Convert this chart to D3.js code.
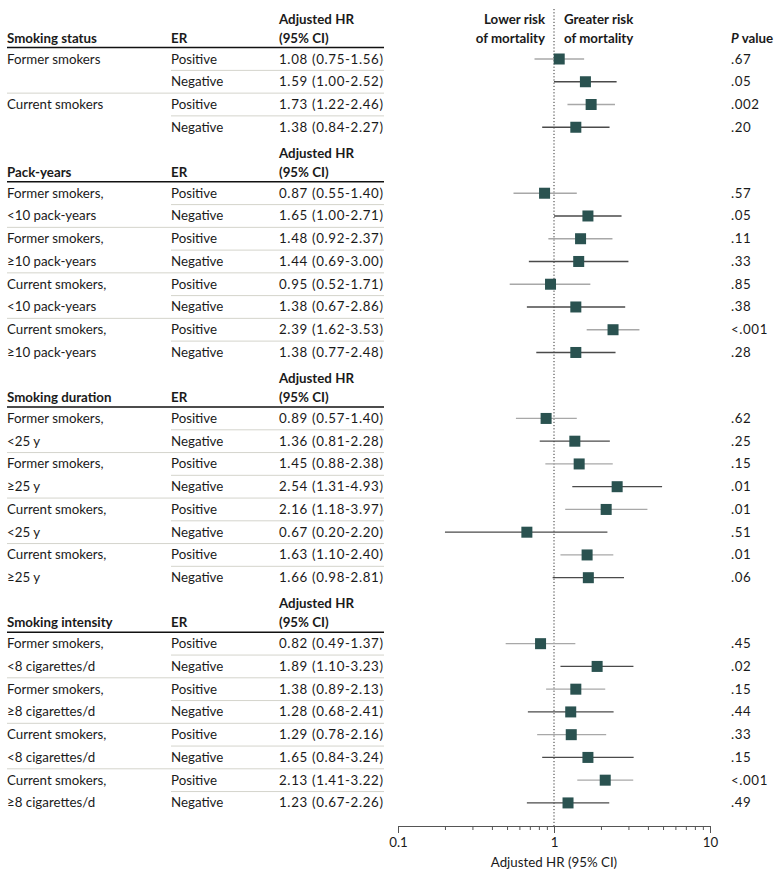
<!DOCTYPE html>
<html><head><meta charset="utf-8">
<script src="https://cdn.jsdelivr.net/npm/d3@7"></script>
<style>
body{margin:0;background:#fff;}
svg text{font-family:Lato,"Noto Sans",sans-serif;fill:#1a1a1a;}
</style></head>
<body><svg id="chart" width="780" height="881"></svg>
<script>
const sectionTitles = ["Smoking status","Pack-years","Smoking duration","Smoking intensity"];
const groupLabels = [
  ["Former smokers"],["Current smokers"],
  ["Former smokers,","<10 pack-years"],["Former smokers,","≥10 pack-years"],["Current smokers,","<10 pack-years"],["Current smokers,","≥10 pack-years"],
  ["Former smokers,","<25 y"],["Former smokers,","≥25 y"],["Current smokers,","<25 y"],["Current smokers,","≥25 y"],
  ["Former smokers,","<8 cigarettes/d"],["Former smokers,","≥8 cigarettes/d"],["Current smokers,","<8 cigarettes/d"],["Current smokers,","≥8 cigarettes/d"]
];
const groupSection = [0,0,1,1,1,1,2,2,2,2,3,3,3,3];
const erStatus = ["Positive","Negative"];
const hr     = [1.08,1.59,1.73,1.38, 0.87,1.65,1.48,1.44,0.95,1.38,2.39,1.38, 0.89,1.36,1.45,2.54,2.16,0.67,1.63,1.66, 0.82,1.89,1.38,1.28,1.29,1.65,2.13,1.23];
const ciLow  = [0.75,1.00,1.22,0.84, 0.55,1.00,0.92,0.69,0.52,0.67,1.62,0.77, 0.57,0.81,0.88,1.31,1.18,0.20,1.10,0.98, 0.49,1.10,0.89,0.68,0.78,0.84,1.41,0.67];
const ciHigh = [1.56,2.52,2.46,2.27, 1.40,2.71,2.37,3.00,1.71,2.86,3.53,2.48, 1.40,2.28,2.38,4.93,3.97,2.20,2.40,2.81, 1.37,3.23,2.13,2.41,2.16,3.24,3.22,2.26];
const pValues = [".67",".05",".002",".20", ".57",".05",".11",".33",".85",".38","<.001",".28", ".62",".25",".15",".01",".01",".51",".01",".06", ".45",".02",".15",".44",".33",".15","<.001",".49"];
const axisTicks = [0.1,0.2,0.3,0.4,0.5,0.6,0.7,0.8,0.9,1,2,3,4,5,6,7,8,9,10];
const axisLabels = ["0.1","1","10"];

const svg = d3.select("#chart");
const fs = 13.3;
const colLabel = 7, colER = 171, colHR = 279, colP = 731, tableRight = 384;
const x = d3.scaleLog().domain([0.1,10]).range([398,710]);
const y = d3.scaleLinear().domain([0,1]).range([59,59+22.75]);
const headerGap = 2.9;

const rows = [];
const sectionStart = [];
let unit = 0;
sectionTitles.forEach((s,si)=>{
  if(si>0) unit += headerGap;
  sectionStart.push(unit);
  groupLabels.forEach((g,gi)=>{
    if(groupSection[gi]!==si) return;
    erStatus.forEach((er,ei)=>{
      const idx = rows.length;
      rows.push({idx, si, gi, ei, er, unit, hr:hr[idx], lo:ciLow[idx], hi:ciHigh[idx], p:pValues[idx]});
      unit += 1;
    });
  });
  unit -= 1;
});

sectionTitles.forEach((s,si)=>{
  const y0 = y(sectionStart[si]);
  const g = svg.append("g");
  g.append("text").attr("x",colLabel).attr("y",y0-21+4.5).attr("font-size",fs).attr("font-weight","bold").text(s);
  g.append("text").attr("x",colER).attr("y",y0-21+4.5).attr("font-size",fs).attr("font-weight","bold").text("ER");
  g.append("text").attr("x",colHR).attr("y",y0-40+4.5).attr("font-size",fs).attr("font-weight","bold").text("Adjusted HR");
  g.append("text").attr("x",colHR).attr("y",y0-21+4.5).attr("font-size",fs).attr("font-weight","bold").text("(95% CI)");
  g.append("line").attr("x1",colLabel).attr("x2",tableRight).attr("y1",y0-11.5).attr("y2",y0-11.5)
    .attr("stroke","#111").attr("stroke-width",1.5);
  if(si===0){
    const pt = g.append("text").attr("x",colP).attr("y",y0-21+4.5).attr("font-size",fs).attr("font-weight","bold");
    pt.append("tspan").attr("font-style","italic").text("P");
    pt.append("tspan").text(" value");
  }
});

rows.forEach((r,i)=>{
  const next = rows[i+1];
  if(!next || next.si!==r.si) return;
  const ys = (y(r.unit)+y(next.unit))/2;
  const x1 = r.ei===0 ? colER : colLabel;
  svg.append("line").attr("x1",x1).attr("x2",tableRight).attr("y1",ys).attr("y2",ys)
    .attr("stroke","#d4d4cc").attr("stroke-width",1);
});

rows.forEach(r=>{
  const yy = y(r.unit)+4.5;
  const lbl = groupLabels[r.gi][r.ei];
  if(lbl) svg.append("text").attr("x",colLabel).attr("y",yy).attr("font-size",fs).text(lbl);
  svg.append("text").attr("x",colER).attr("y",yy).attr("font-size",fs).text(r.er);
  svg.append("text").attr("x",colHR).attr("y",yy).attr("font-size",fs).attr("letter-spacing",0.65)
    .text(`${r.hr.toFixed(2)} (${r.lo.toFixed(2)}-${r.hi.toFixed(2)})`);
  svg.append("text").attr("x",colP).attr("y",yy).attr("font-size",fs).attr("letter-spacing",0.6).text(r.p);
});

svg.append("text").attr("x",545).attr("y",19+4.5).attr("text-anchor","end").attr("font-size",fs).attr("font-weight","bold").text("Lower risk");
svg.append("text").attr("x",545).attr("y",38+4.5).attr("text-anchor","end").attr("font-size",fs).attr("font-weight","bold").text("of mortality");
svg.append("text").attr("x",564).attr("y",19+4.5).attr("font-size",fs).attr("font-weight","bold").text("Greater risk");
svg.append("text").attr("x",564).attr("y",38+4.5).attr("font-size",fs).attr("font-weight","bold").text("of mortality");

const axisY = 826;
svg.append("line").attr("x1",x(1)).attr("x2",x(1)).attr("y1",9).attr("y2",axisY)
  .attr("stroke","#333").attr("stroke-width",1).attr("stroke-dasharray","1.2,2");

const mk = 11;
svg.append("g").selectAll("line").data(rows).join("line")
  .attr("x1",d=>x(d.lo)).attr("x2",d=>x(d.hi))
  .attr("y1",d=>y(d.unit)).attr("y2",d=>y(d.unit))
  .attr("stroke",d=>d.ei===0?"#a8a8a8":"#4a4a4a").attr("stroke-width",1.3);
svg.append("g").selectAll("rect").data(rows).join("rect")
  .attr("x",d=>x(d.hr)-mk/2).attr("y",d=>y(d.unit)-mk/2)
  .attr("width",mk).attr("height",mk).attr("fill","#2a5250");

const axis = d3.axisBottom(x).tickValues(axisTicks).tickSize(7).tickSizeOuter(0)
  .tickFormat(d=>{const s=String(d); return axisLabels.includes(s)?s:"";});
const ag = svg.append("g").attr("transform",`translate(0,${axisY})`).call(axis);
ag.select(".domain").attr("stroke","#555");
ag.selectAll(".tick line").attr("stroke","#555").attr("y2",d=>[0.1,1,10].includes(d)?7:4);
ag.selectAll(".tick text").attr("font-family","Lato,'Noto Sans',sans-serif").attr("font-size",fs).attr("fill","#1a1a1a").attr("dy","0.71em").attr("y",12);
svg.append("text").attr("x",x(1)).attr("y",867).attr("text-anchor","middle").attr("font-size",fs).text("Adjusted HR (95% CI)");
</script></body></html>
